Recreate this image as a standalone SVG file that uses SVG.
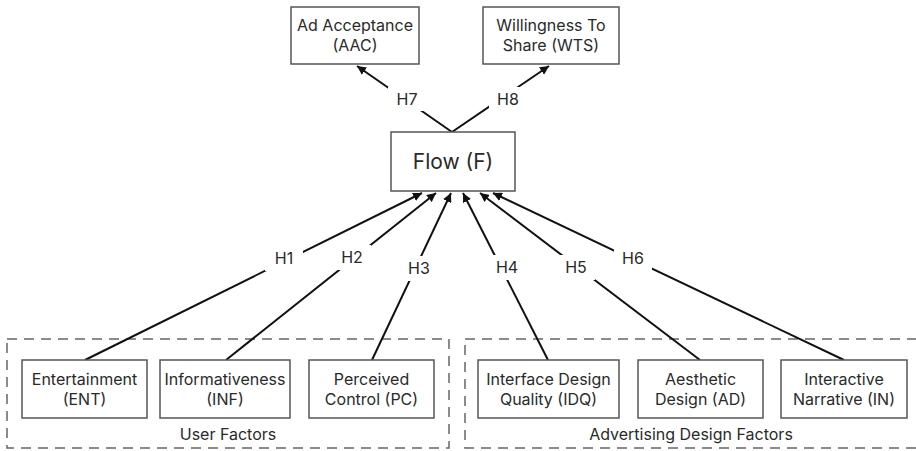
<svg xmlns="http://www.w3.org/2000/svg" width="916" height="451" viewBox="0 0 916 451">
<defs>
<marker id="ah" viewBox="0 0 10 10" refX="10" refY="5" markerWidth="9" markerHeight="9" markerUnits="userSpaceOnUse" orient="auto">
<path d="M0,0 L10,5 L0,10 z" fill="#111"/>
</marker>
</defs>
<style>
.box{fill:#fff;stroke:#555;stroke-width:1.5}
.grp{fill:none;stroke:#666;stroke-width:1.5;stroke-dasharray:10 7}
.t{font-family:Inter,"Noto Sans",sans-serif;font-size:16px;fill:#2a2a2a;text-anchor:middle}
.big{font-size:21px}
.ln{stroke:#111;stroke-width:2;fill:none}
.lbl{fill:#fff}
</style>
<rect width="916" height="451" fill="#fff"/>
<g id="groups">
<rect id="user-factors" class="grp" x="7" y="339" width="442" height="109"/>
<rect id="ad-design-factors" class="grp" x="465" y="339" width="460" height="109"/>
<text class="t" x="228" y="440">User Factors</text>
<text class="t" x="691" y="440">Advertising Design Factors</text>
</g>
<g id="connectors">
<line class="ln" x1="452" y1="132" x2="357" y2="66" marker-end="url(#ah)"/>
<line class="ln" x1="452" y1="132" x2="549" y2="66" marker-end="url(#ah)"/>
<line class="ln" x1="85" y1="360" x2="422" y2="193" marker-end="url(#ah)"/>
<line class="ln" x1="226" y1="360" x2="436" y2="193" marker-end="url(#ah)"/>
<line class="ln" x1="372" y1="360" x2="451" y2="193" marker-end="url(#ah)"/>
<line class="ln" x1="548" y1="360" x2="463" y2="193" marker-end="url(#ah)"/>
<line class="ln" x1="700" y1="360" x2="480" y2="193" marker-end="url(#ah)"/>
<line class="ln" x1="844" y1="360" x2="493" y2="193" marker-end="url(#ah)"/>
<rect class="lbl" x="388" y="87" width="38" height="24"/>
<text class="t" x="407" y="105">H7</text>
<rect class="lbl" x="489" y="87" width="38" height="24"/>
<text class="t" x="508" y="105">H8</text>
<rect class="lbl" x="265" y="246" width="38" height="25"/>
<text class="t" x="284" y="264">H1</text>
<rect class="lbl" x="333" y="245" width="38" height="25"/>
<text class="t" x="352" y="263">H2</text>
<rect class="lbl" x="400" y="256" width="38" height="25"/>
<text class="t" x="419" y="274">H3</text>
<rect class="lbl" x="488" y="255" width="38" height="25"/>
<text class="t" x="507" y="273">H4</text>
<rect class="lbl" x="557" y="255" width="38" height="25"/>
<text class="t" x="576" y="273">H5</text>
<rect class="lbl" x="614" y="246" width="38" height="25"/>
<text class="t" x="633" y="264">H6</text>
</g>
<g id="aac">
<rect class="box" x="291" y="7" width="128" height="57"/>
<text class="t" x="355" y="31">Ad Acceptance</text>
<text class="t" x="355" y="51">(AAC)</text>
</g>
<g id="wts">
<rect class="box" x="483" y="7" width="136" height="57"/>
<text class="t" x="551" y="31">Willingness To</text>
<text class="t" x="551" y="51">Share (WTS)</text>
</g>
<g id="flow">
<rect class="box" x="391" y="132" width="124" height="59"/>
<text class="t big" x="453" y="169">Flow (F)</text>
</g>
<g id="ent">
<rect class="box" x="22" y="360" width="125" height="58"/>
<text class="t" x="84.5" y="385">Entertainment</text>
<text class="t" x="84.5" y="405">(ENT)</text>
</g>
<g id="inf">
<rect class="box" x="160" y="360" width="130" height="58"/>
<text class="t" x="225" y="385">Informativeness</text>
<text class="t" x="225" y="405">(INF)</text>
</g>
<g id="pc">
<rect class="box" x="309" y="360" width="125" height="58"/>
<text class="t" x="371.5" y="385">Perceived</text>
<text class="t" x="371.5" y="405">Control (PC)</text>
</g>
<g id="idq">
<rect class="box" x="478" y="360" width="141" height="58"/>
<text class="t" x="548.5" y="385">Interface Design</text>
<text class="t" x="548.5" y="405">Quality (IDQ)</text>
</g>
<g id="ad">
<rect class="box" x="638" y="360" width="125" height="58"/>
<text class="t" x="700.5" y="385">Aesthetic</text>
<text class="t" x="700.5" y="405">Design (AD)</text>
</g>
<g id="in">
<rect class="box" x="781" y="360" width="126" height="58"/>
<text class="t" x="844" y="385">Interactive</text>
<text class="t" x="844" y="405">Narrative (IN)</text>
</g>
</svg>
